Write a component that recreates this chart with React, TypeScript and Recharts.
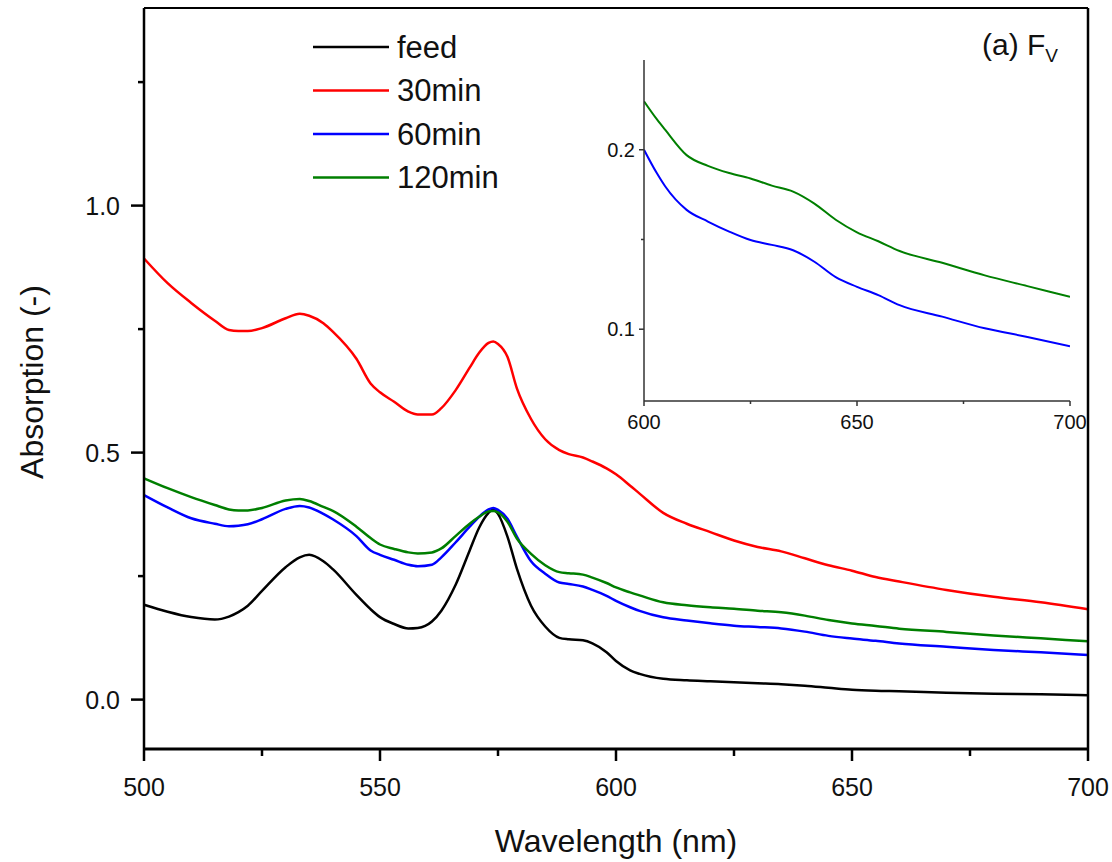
import { LineChart, Line, XAxis, YAxis, Legend } from 'recharts';

const FONT = "Arial, 'Liberation Sans', Helvetica, sans-serif";

// wavelength grid (nm)
const WAVELENGTH = [
  500, 505, 510, 515, 518, 520, 522, 525,
  530, 533, 535, 538, 540, 545, 548, 550,
  553, 556, 558, 561, 563, 566, 569, 571,
  573, 574, 575, 577, 579, 582, 585, 588,
  590, 593, 595, 598, 600, 603, 605, 610,
  615, 620, 625, 630, 635, 640, 645, 650,
  655, 660, 670, 680, 690, 700,
];

const FEED = [
  0.192, 0.178, 0.167, 0.162, 0.168, 0.177, 0.19, 0.22,
  0.268, 0.288, 0.293, 0.28, 0.264, 0.212, 0.183, 0.167,
  0.153, 0.144, 0.145, 0.158, 0.18, 0.232, 0.302, 0.348,
  0.378, 0.385, 0.376, 0.33, 0.265, 0.19, 0.148, 0.125,
  0.122, 0.12, 0.114, 0.096, 0.078, 0.059, 0.052, 0.042,
  0.039, 0.037, 0.035, 0.033, 0.031, 0.028, 0.024, 0.02,
  0.018, 0.017, 0.014, 0.012, 0.011, 0.009,
];

const MIN30 = [
  0.893, 0.843, 0.803, 0.767, 0.748, 0.746, 0.746, 0.752,
  0.772, 0.781, 0.777, 0.762, 0.745, 0.69, 0.64, 0.622,
  0.603, 0.583, 0.577, 0.577, 0.59, 0.626, 0.672, 0.702,
  0.722, 0.725, 0.72, 0.694, 0.63, 0.568, 0.527, 0.505,
  0.497, 0.49, 0.482, 0.468, 0.456, 0.433, 0.417, 0.378,
  0.356, 0.339, 0.322, 0.309, 0.3, 0.286, 0.272, 0.261,
  0.248, 0.239, 0.222, 0.208, 0.197, 0.183,
];

const MIN60 = [
  0.414, 0.389, 0.367, 0.356, 0.351, 0.352, 0.355, 0.365,
  0.386, 0.392, 0.389, 0.376, 0.365, 0.331, 0.302, 0.293,
  0.283, 0.273, 0.27, 0.273, 0.288, 0.318, 0.35, 0.37,
  0.385, 0.388, 0.384, 0.366, 0.33, 0.28, 0.255, 0.237,
  0.234, 0.229, 0.222, 0.21, 0.2, 0.187, 0.1795, 0.1665,
  0.16, 0.1544, 0.1497, 0.147, 0.144, 0.1376, 0.129, 0.1236,
  0.119, 0.1134, 0.107, 0.1005, 0.0957, 0.0905,
];

const MIN120 = [
  0.448, 0.428, 0.41, 0.394, 0.385, 0.383, 0.383, 0.388,
  0.403, 0.406, 0.402, 0.39, 0.382, 0.35, 0.327, 0.314,
  0.305, 0.298, 0.296, 0.298, 0.306, 0.331, 0.356, 0.37,
  0.381, 0.382, 0.379, 0.36, 0.326, 0.295, 0.272, 0.258,
  0.256, 0.253, 0.247, 0.236, 0.227, 0.217, 0.211, 0.197,
  0.191, 0.187, 0.184, 0.18, 0.1767, 0.17, 0.161, 0.154,
  0.149, 0.1436, 0.137, 0.13, 0.124, 0.118,
];

const SERIES_NAMES = ['feed', '30min', '60min', '120min'];
const X_TICKS = [500, 525, 550, 575, 600, 625, 650, 675, 700];
const Y_TICKS = [0, 0.25, 0.5, 0.75, 1, 1.25];
const INSET_X_TICKS = [600, 625, 650, 675, 700];
const INSET_Y_TICKS = [0.1, 0.15, 0.2];

const rows = WAVELENGTH.map((nm, i) => ({
  nm,
  feed: FEED[i],
  m30: MIN30[i],
  m60: MIN60[i],
  m120: MIN120[i],
}));
const insetRows = rows.filter((r) => r.nm >= 600);

function MainXTick({ x, y, payload }: any) {
  const major = payload.value % 50 === 0;
  return (
    <g>
      <line x1={x} x2={x} y1={y} y2={y + (major ? 12 : 7)} stroke="#000" strokeWidth={2.5} />
      {major && (
        <text x={x} y={y + 38} textAnchor="middle" dominantBaseline="central" fontSize={25} fill="#111" fontFamily={FONT}>
          {payload.value}
        </text>
      )}
    </g>
  );
}

function MainYTick({ x, y, payload }: any) {
  const v = payload.value;
  const major = Math.abs(v * 2 - Math.round(v * 2)) < 1e-6;
  return (
    <g>
      <line x1={x - (major ? 13 : 6)} x2={x} y1={y} y2={y} stroke="#000" strokeWidth={2.5} />
      {major && (
        <text x={x - 24} y={y} textAnchor="end" dominantBaseline="central" fontSize={25} fill="#111" fontFamily={FONT}>
          {v.toFixed(1)}
        </text>
      )}
    </g>
  );
}

function InsetXTick({ x, y, payload }: any) {
  const major = payload.value % 50 === 0;
  return (
    <g>
      <line x1={x} x2={x} y1={y} y2={y + (major ? 5 : 3)} stroke="#333" strokeWidth={1.5} />
      {major && (
        <text x={x} y={y + 21} textAnchor="middle" dominantBaseline="central" fontSize={20} fill="#111" fontFamily={FONT}>
          {payload.value}
        </text>
      )}
    </g>
  );
}

function InsetYTick({ x, y, payload }: any) {
  const v = payload.value;
  const major = Math.abs(v * 10 - Math.round(v * 10)) < 1e-6;
  return (
    <g>
      <line x1={x - (major ? 5 : 3)} x2={x} y1={y} y2={y} stroke="#333" strokeWidth={1.5} />
      {major && (
        <text x={x - 9} y={y} textAnchor="end" dominantBaseline="central" fontSize={20} fill="#111" fontFamily={FONT}>
          {v.toFixed(1)}
        </text>
      )}
    </g>
  );
}

function renderLegend(props: any) {
  const items = [...(props.payload || [])].sort(
    (a: any, b: any) => SERIES_NAMES.indexOf(a.value) - SERIES_NAMES.indexOf(b.value)
  );
  return (
    <svg width={260} height={180} style={{ display: 'block' }}>
      {items.map((item: any, i: number) => {
        const cy = 20 + i * 43.5;
        return (
          <g key={item.value}>
            <line x1={0} x2={76} y1={cy} y2={cy} stroke={item.color} strokeWidth={2.5} />
            <text x={84} y={cy} dominantBaseline="central" fontSize={31} fill="#111" fontFamily={FONT}>
              {item.value}
            </text>
          </g>
        );
      })}
    </svg>
  );
}

export default function App() {
  return (
    <div style={{ position: 'absolute', left: 0, top: 0, width: 1112, height: 862, background: '#fff', fontFamily: FONT }}>
      <LineChart width={1112} height={862} data={rows} margin={{ top: 7, right: 23, left: 143, bottom: 112 }}>
        <XAxis
          dataKey="nm"
          type="number"
          domain={[500, 700]}
          ticks={X_TICKS}
          interval={0}
          height={1}
          tickSize={0}
          tickMargin={0}
          tickLine={false}
          tick={<MainXTick />}
          axisLine={{ stroke: '#000', strokeWidth: 3 }}
        />
        <XAxis xAxisId="top" orientation="top" type="number" dataKey="nm" domain={[500, 700]} height={1} tick={false} tickLine={false} axisLine={{ stroke: '#000', strokeWidth: 2 }} />
        <YAxis
          type="number"
          domain={[-0.1, 1.4]}
          ticks={Y_TICKS}
          interval={0}
          width={1}
          tickSize={0}
          tickMargin={0}
          tickLine={false}
          tick={<MainYTick />}
          axisLine={{ stroke: '#000', strokeWidth: 2.5 }}
        />
        <YAxis yAxisId="right" orientation="right" type="number" domain={[-0.1, 1.4]} width={1} tick={false} tickLine={false} axisLine={{ stroke: '#000', strokeWidth: 2.5 }} />
        <Legend
          layout="vertical"
          align="center"
          verticalAlign="middle"
          content={renderLegend}
          wrapperStyle={{ position: 'absolute', left: 313, top: 27, width: 260, height: 180 }}
        />
        <Line type="monotone" dataKey="feed" name="feed" stroke="#000000" strokeWidth={2.5} dot={false} isAnimationActive={false} />
        <Line type="monotone" dataKey="m30" name="30min" stroke="#ff0000" strokeWidth={2.5} dot={false} isAnimationActive={false} />
        <Line type="monotone" dataKey="m60" name="60min" stroke="#0000ff" strokeWidth={2.5} dot={false} isAnimationActive={false} />
        <Line type="monotone" dataKey="m120" name="120min" stroke="#007f00" strokeWidth={2.5} dot={false} isAnimationActive={false} />
      </LineChart>

      <div style={{ position: 'absolute', left: 580, top: 40, width: 520, height: 400 }}>
        <LineChart width={520} height={400} data={insetRows} margin={{ top: 20, right: 30, left: 63, bottom: 38 }}>
          <XAxis
            dataKey="nm"
            type="number"
            domain={[600, 700]}
            ticks={INSET_X_TICKS}
            interval={0}
            height={1}
            tickSize={0}
            tickMargin={0}
            tickLine={false}
            tick={<InsetXTick />}
            allowDataOverflow
            axisLine={{ stroke: '#333', strokeWidth: 1.5 }}
          />
          <YAxis
            type="number"
            domain={[0.06, 0.25]}
            ticks={INSET_Y_TICKS}
            interval={0}
            width={1}
            tickSize={0}
            tickMargin={0}
            tickLine={false}
            tick={<InsetYTick />}
            allowDataOverflow
            axisLine={{ stroke: '#333', strokeWidth: 1.5 }}
          />
          <Line type="monotone" dataKey="m60" stroke="#0000ff" strokeWidth={2} dot={false} isAnimationActive={false} />
          <Line type="monotone" dataKey="m120" stroke="#007f00" strokeWidth={2} dot={false} isAnimationActive={false} />
        </LineChart>
      </div>

      <div style={{ position: 'absolute', left: 982, top: 27, fontSize: 30, lineHeight: '36px', color: '#111', whiteSpace: 'nowrap' }}>
        (a) F<sub style={{ fontSize: 19 }}>V</sub>
      </div>

      <div style={{ position: 'absolute', left: 316, width: 600, top: 822, textAlign: 'center', fontSize: 32, lineHeight: '38px', color: '#111' }}>
        Wavelength (nm)
      </div>

      <div
        style={{
          position: 'absolute',
          left: 32,
          top: 382,
          width: 400,
          textAlign: 'center',
          fontSize: 32,
          lineHeight: '38px',
          color: '#111',
          transform: 'translate(-50%, -50%) rotate(-90deg)',
        }}
      >
        Absorption (-)
      </div>
    </div>
  );
}
